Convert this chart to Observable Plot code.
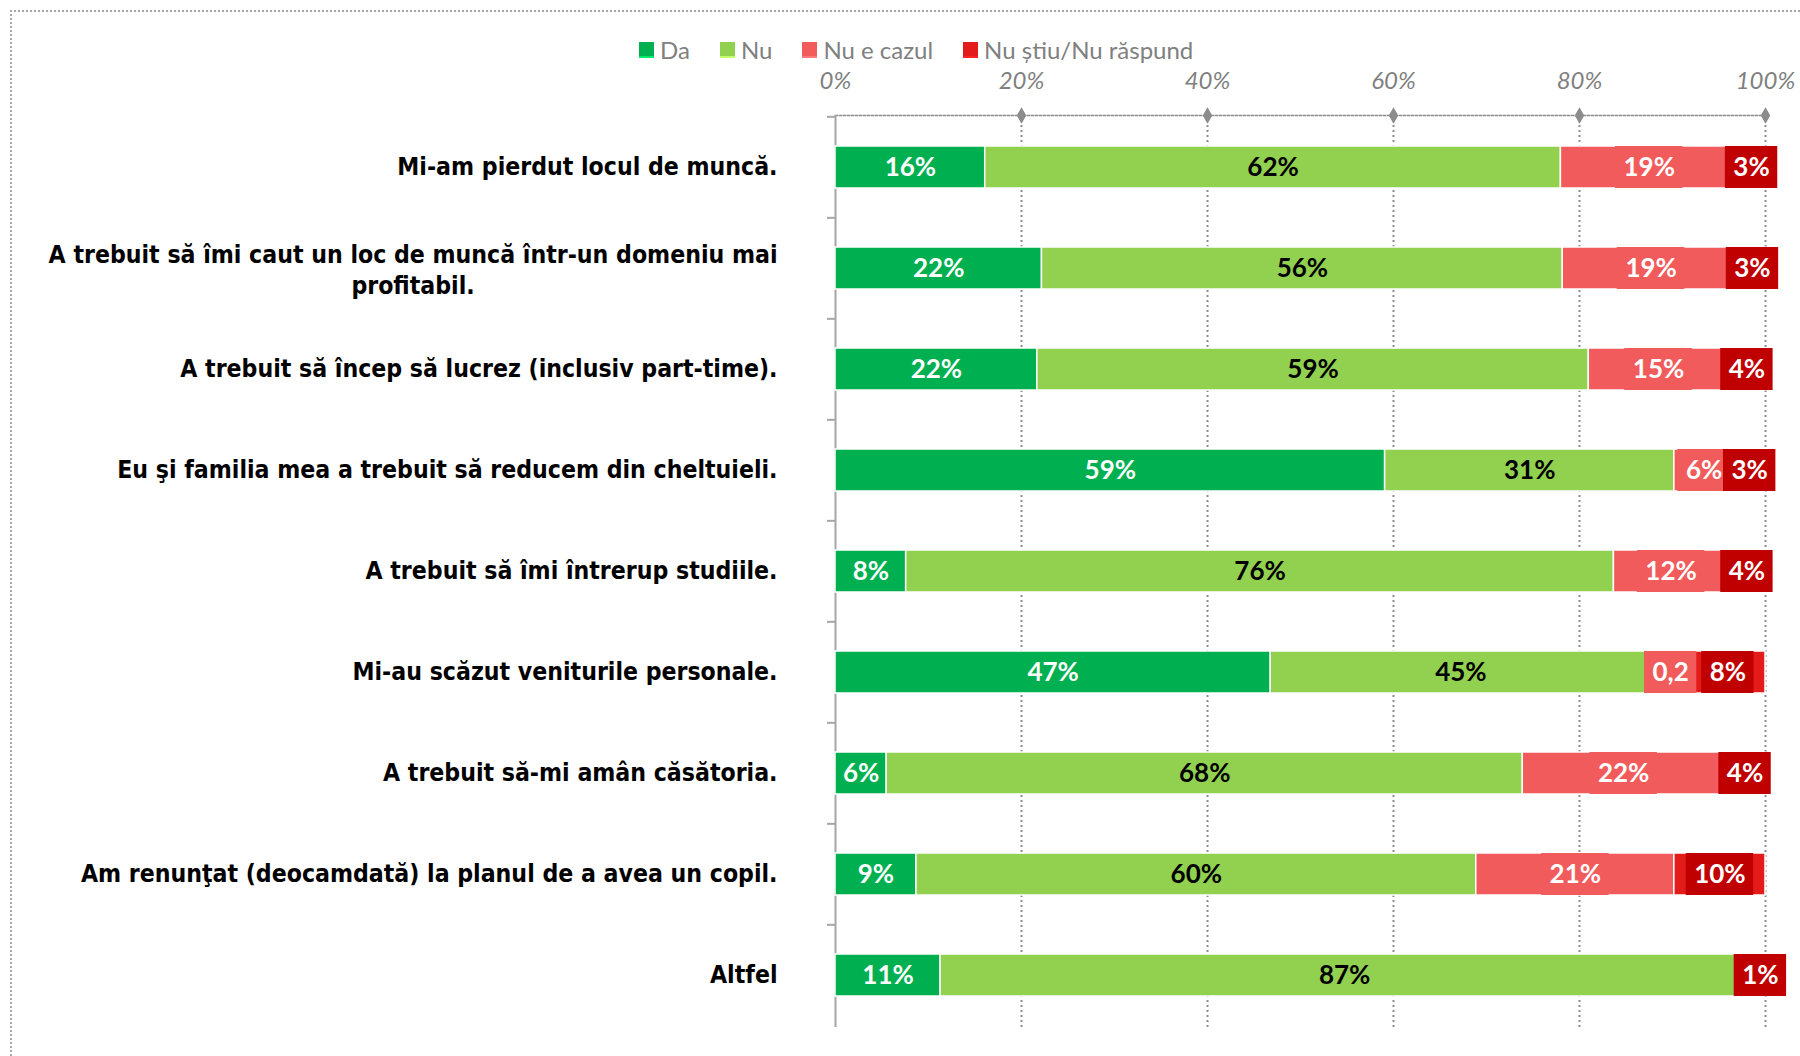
<!DOCTYPE html>
<html>
<head>
<meta charset="utf-8">
<script src="https://cdn.jsdelivr.net/npm/d3@7"></script>
<script src="https://cdn.jsdelivr.net/npm/@observablehq/plot@0.6"></script>
<style>
  html, body { margin: 0; padding: 0; background: #fff; }
  #frame { position: absolute; left: 10px; top: 10px; width: 1790px; height: 1046px;
           border-top: 2px dotted #a6a6a6; border-left: 2px dotted #a6a6a6; box-sizing: border-box; }
  #legend { position: absolute; left: 627px; top: 23px; height: 28px; display: flex; align-items: center;
            gap: 30px; font-family: Lato, sans-serif; font-size: 24px; color: #808080; white-space: nowrap; }
  .item { display: flex; align-items: center; gap: 6px; }
  .sw { width: 15px; height: 14px; display: inline-block; }
  #chart { position: absolute; left: 0; top: 51px; }
</style>
</head>
<body>
<div id="frame">
  <div id="legend"></div>
  <div id="chart"></div>
</div>
<script>
// ---- data ----
const categories = [
  "Mi-am pierdut locul de muncă.",
  "A trebuit să îmi caut un loc de muncă într-un domeniu mai\nprofitabil.",
  "A trebuit să încep să lucrez (inclusiv part-time).",
  "Eu şi familia mea a trebuit să reducem din cheltuieli.",
  "A trebuit să îmi întrerup studiile.",
  "Mi-au scăzut veniturile personale.",
  "A trebuit să-mi amân căsătoria.",
  "Am renunţat (deocamdată) la planul de a avea un copil.",
  "Altfel"
];
const series = ["Da", "Nu", "Nu e cazul", "Nu știu/Nu răspund"];
const seriesColors = ["#00b050", "#92d050", "#f15b5b", "#e41b1b"];
const labelBoxColors = [null, null, "#f15b5b", "#c00000"];
const labelTextColors = ["#ffffff", "#000000", "#ffffff", "#ffffff"];

// bar lengths as drawn (percent)
const daValues  = [16.1, 22.2, 21.7, 59.1,  7.6, 46.8,  5.5,  8.7, 11.3];
const nuValues  = [61.9, 56.0, 59.3, 31.1, 76.1, 40.9, 68.4, 60.2, 86.9];
const necValues = [19.0, 19.0, 15.0,  6.4, 12.3,  4.2, 21.7, 21.3,  0.7];
const nsValues  = [ 3.0,  2.8,  4.0,  3.4,  4.0,  8.1,  4.4,  9.8,  1.1];

// data labels as printed
const daLabels  = ["16%", "22%", "22%", "59%", "8%", "47%", "6%", "9%", "11%"];
const nuLabels  = ["62%", "56%", "59%", "31%", "76%", "45%", "68%", "60%", "87%"];
const necLabels = ["19%", "19%", "15%", "6%", "12%", "0,2", "22%", "21%", ""];
const nsLabels  = ["3%", "3%", "4%", "3%", "4%", "8%", "4%", "10%", "1%"];

const xTicks = [0, 20, 40, 60, 80, 100];

// ---- layout ----
const W = 1788, H = 993, ML = 823, MR = 35, MT = 52, MB = 29;
const k = (W - ML - MR) / 100;               // px per percent
const step = (H - MT - MB) / categories.length;
const catFont = '"DejaVu Sans Condensed", "DejaVu Sans", sans-serif';
const catFontSize = 24.6;
const labelFontSize = 26;

const seriesValues = [daValues, nuValues, necValues, nsValues];
const seriesLabels = [daLabels, nuLabels, necLabels, nsLabels];

const ctx = document.createElement("canvas").getContext("2d");
function textWidth(t, font) { ctx.font = font; return ctx.measureText(t).width; }

// legend
const legend = document.getElementById("legend");
series.forEach((s, i) => {
  const it = document.createElement("div");
  it.className = "item";
  const sw = document.createElement("span");
  sw.className = "sw";
  sw.style.background = seriesColors[i];
  sw.style.boxShadow = "0 2px 0 " + d3.color(seriesColors[i]).brighter(0.8).formatHex();
  const tx = document.createElement("span");
  tx.textContent = s;
  it.append(sw, tx);
  legend.append(it);
});

// stacked rows
const segs = [];
categories.forEach((c, i) => {
  let acc = 0;
  series.forEach((s, j) => {
    const v = seriesValues[j][i];
    segs.push({cat: c, series: s, j, x1: acc, x2: acc + v, mid: acc + v / 2, label: seriesLabels[j][i]});
    acc += v;
  });
});
const labelFont = `bold ${labelFontSize}px Lato`;
const boxes = segs.filter(d => labelBoxColors[d.j] && d.label).map(d => {
  const hw = (textWidth(d.label, labelFont) / 2 + 8) / k;
  return {...d, bx1: d.mid - hw, bx2: d.mid + hw};
});

const singleCats = categories.filter(c => !c.includes("\n"));
const multiCats = categories.filter(c => c.includes("\n"));
const catFontCss = `bold ${catFontSize}px ${catFont}`;

const marks = [
  Plot.ruleX(xTicks.slice(1), {stroke: "#8c8c8c", strokeWidth: 2, strokeDasharray: "2,3"}),
  Plot.frame({anchor: "top", stroke: "#8c8c8c", strokeWidth: 1.5, strokeDasharray: "2,2"}),
  Plot.dot(xTicks.slice(1), {x: d => d, frameAnchor: "top", symbol: "diamond", r: 5, fill: "#8c8c8c"}),
  Plot.ruleX([0], {stroke: "#a6a6a6", strokeWidth: 2}),
  Plot.ruleY(categories, {y: d => d, x1: d => 0, x2: d => 0, insetLeft: -8, dy: -step / 2, stroke: "#a6a6a6", strokeWidth: 2}),
  Plot.barX(segs, {y: "cat", x1: "x1", x2: "x2", fill: "series", stroke: "white", strokeWidth: 1.5}),
  ...[2, 3].map(j => Plot.barX(boxes.filter(d => d.j === j), {y: "cat", x1: "bx1", x2: "bx2", fill: labelBoxColors[j]})),
  ...[0, 1, 2, 3].map(j => Plot.text(segs.filter(d => d.j === j && d.label), {
    y: "cat", x: "mid", text: "label", fill: labelTextColors[j],
    fontWeight: "bold", fontSize: labelFontSize, fontFamily: "Lato"
  })),
  Plot.axisX({anchor: "top", ticks: xTicks, tickFormat: d => d + "%", tickSize: 0, tickPadding: 27,
    fontSize: 24, fontStyle: "italic", fill: "#7f7f7f", fontFamily: "Lato"}),
  Plot.text(singleCats, {y: d => d, text: d => d, frameAnchor: "left", textAnchor: "end", dx: -58,
    fontWeight: "bold", fontSize: catFontSize, fontFamily: catFont, fill: "#000"}),
  ...multiCats.map(c => {
    const w = d3.max(c.split("\n"), l => textWidth(l, catFontCss));
    return Plot.text([c], {y: d => d, text: d => d, frameAnchor: "left", textAnchor: "middle", dx: -58 - w / 2,
      lineHeight: 1.25, fontWeight: "bold", fontSize: catFontSize, fontFamily: catFont, fill: "#000"});
  })
];

const chart = Plot.plot({
  width: W, height: H,
  marginLeft: ML, marginRight: MR, marginTop: MT, marginBottom: MB,
  style: {fontFamily: "Lato, sans-serif", background: "transparent", overflow: "visible"},
  x: {domain: [0, 100], axis: null},
  y: {domain: categories, axis: null, paddingInner: 0.585, paddingOuter: 0.2925},
  color: {domain: series, range: seriesColors},
  marks
});
document.getElementById("chart").append(chart);
</script>
</body>
</html>
